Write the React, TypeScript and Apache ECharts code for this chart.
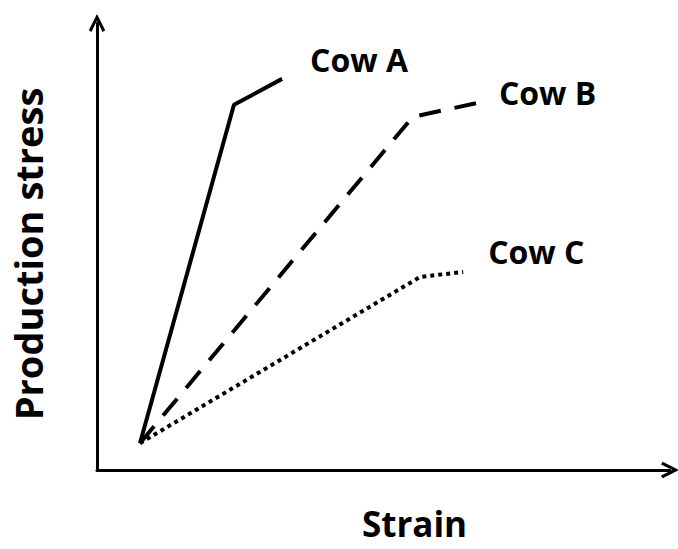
import React, { useEffect, useRef } from "react";
import * as echarts from "echarts";

const seriesNames = ["Cow A", "Cow B", "Cow C"];
const cowA: [number, number][] = [[7.5, 6.0], [23.9, 81.7], [32.3, 87.5]];
const cowB: [number, number][] = [[7.5, 6.0], [55.1, 79.0], [66.3, 82.1]];
const cowC: [number, number][] = [[7.5, 6.0], [56.4, 43.2], [63.9, 44.3]];
const xName = "Strain";
const yName = "Production stress";

const FONT = "'Open Sans', 'Noto Sans', sans-serif";
const chevron = "path://M0,10 L5,0 L10,10 L8.4,11 L5,4 L1.6,11 Z";

export default function App() {
  const ref = useRef<HTMLDivElement>(null);
  useEffect(() => {
    if (!ref.current) return;
    const chart = echarts.init(ref.current, null, { renderer: "svg" });
    const labelStyle = (offset: [number, number]) => ({
      show: true,
      formatter: "{a}",
      fontFamily: FONT,
      fontWeight: "bold" as const,
      fontSize: 32,
      color: "#000",
      offset,
    });
    chart.setOption({
      animation: false,
      backgroundColor: "#fff",
      grid: { left: 97, right: 8, top: 23, bottom: 79, outerBoundsMode: "none", containLabel: false },
      xAxis: {
        type: "value",
        min: 0,
        max: 100,
        name: xName,
        nameLocation: "middle",
        nameGap: 36,
        nameTextStyle: {
          fontFamily: FONT,
          fontWeight: "bold",
          fontSize: 35,
          lineHeight: 35,
          color: "#000",
          padding: [0, 0, 0, 62],
        },
        axisLine: {
          show: true,
          onZero: false,
          symbol: ["none", chevron],
          symbolSize: [18, 18],
          lineStyle: { color: "#000", width: 3 },
        },
        axisTick: { show: false },
        axisLabel: { show: false },
        splitLine: { show: false },
      },
      yAxis: {
        type: "value",
        min: 0,
        max: 100,
        name: yName,
        nameLocation: "middle",
        nameGap: 50,
        nameTextStyle: {
          fontFamily: FONT,
          fontWeight: "bold",
          fontSize: 38,
          color: "#000",
          padding: [0, 15, 0, 0],
        },
        axisLine: {
          show: true,
          onZero: false,
          symbol: ["none", chevron],
          symbolSize: [18, 18],
          lineStyle: { color: "#000", width: 3 },
        },
        axisTick: { show: false },
        axisLabel: { show: false },
        splitLine: { show: false },
      },
      series: [
        {
          name: seriesNames[0],
          type: "line",
          data: cowA,
          symbol: "none",
          lineStyle: { color: "#000", width: 4, type: "solid" },
          endLabel: labelStyle([20, -19]),
        },
        {
          name: seriesNames[1],
          type: "line",
          data: cowB,
          symbol: "none",
          lineStyle: { color: "#000", width: 4, type: [22, 14] },
          endLabel: labelStyle([14, -11]),
        },
        {
          name: seriesNames[2],
          type: "line",
          data: cowC,
          symbol: "none",
          lineStyle: { color: "#000", width: 4, type: [4, 4] },
          endLabel: labelStyle([17, -20]),
        },
      ],
    });
    return () => chart.dispose();
  }, []);
  return (
    <div
      ref={ref}
      style={{ position: "absolute", left: 0, top: 0, width: 678, height: 549 }}
    />
  );
}
